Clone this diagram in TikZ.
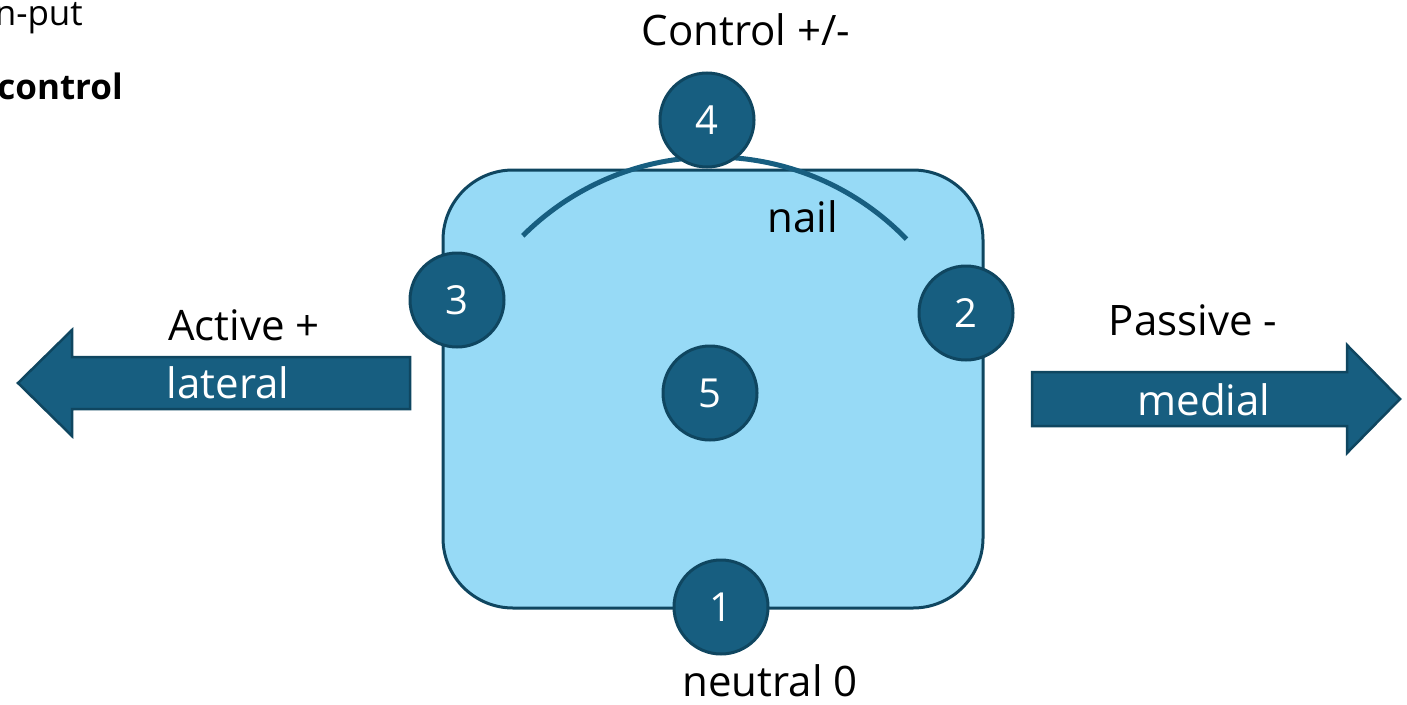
\documentclass[tikz,border=0pt]{standalone}
\usepackage{fontspec}
\setmainfont{Open Sans}
\definecolor{padfill}{HTML}{97DAF6}
\definecolor{deepblue}{HTML}{175E80}
\definecolor{edgeblue}{HTML}{0F4660}
\begin{document}
\begin{tikzpicture}[x=1pt,y=-1pt,
  marker/.style={circle,fill=deepblue,draw=edgeblue,line width=3pt,minimum size=94pt,inner sep=0pt,text=white,font=\fontsize{40}{42}\selectfont},
  label/.style={font=\fontsize{42}{44}\selectfont,inner sep=0pt},
  small/.style={font=\fontsize{35}{37}\selectfont,inner sep=0pt},
  arrowbody/.style={fill=deepblue,draw=edgeblue,line width=2.5pt,line join=miter}]
\useasboundingbox (0,0) rectangle (1407,704);
\clip (0,0) rectangle (1407,704);

% cropped captions at the upper left
\node[small,anchor=east] (input) at (83,17) {In-put};
\node[small,anchor=east,font=\fontsize{35}{37}\selectfont\bfseries] (ctrl) at (123,86) {control};

% the pad
\draw[fill=padfill,draw=edgeblue,line width=3pt,rounded corners=70pt] (443,170) rectangle (983,608);

% curved nail line
\draw[deepblue,line width=5pt] (713,426) ++(225:269) arc[start angle=225,end angle=316,radius=269];
\node[label] (nail) at (803,217) {nail};

% left arrow
\draw[arrowbody] (410,357) -- (72,357) -- (72,330) -- (18,383) -- (72,436) -- (72,409) -- (410,409) -- cycle;
\node[label,text=white] (lateral) at (228,383) {lateral};
\node[label] (active) at (244,325) {Active +};

% right arrow
\draw[arrowbody] (1032,372) -- (1347,372) -- (1347,345) -- (1400,399) -- (1347,453) -- (1347,426) -- (1032,426) -- cycle;
\node[label,text=white] (medial) at (1204,400) {medial};
\node[label] (passive) at (1193,320) {Passive -};

% numbered markers
\node[marker] (m4) at (707,120) {4};
\node[marker] (m3) at (457,300) {3};
\node[marker] (m2) at (966,313) {2};
\node[marker] (m5) at (710,393) {5};
\node[marker] (m1) at (721,607) {1};

\node[label] (control) at (746,30) {Control +/-};
\node[label] (neutral) at (770,681) {neutral 0};
\end{tikzpicture}
\end{document}
